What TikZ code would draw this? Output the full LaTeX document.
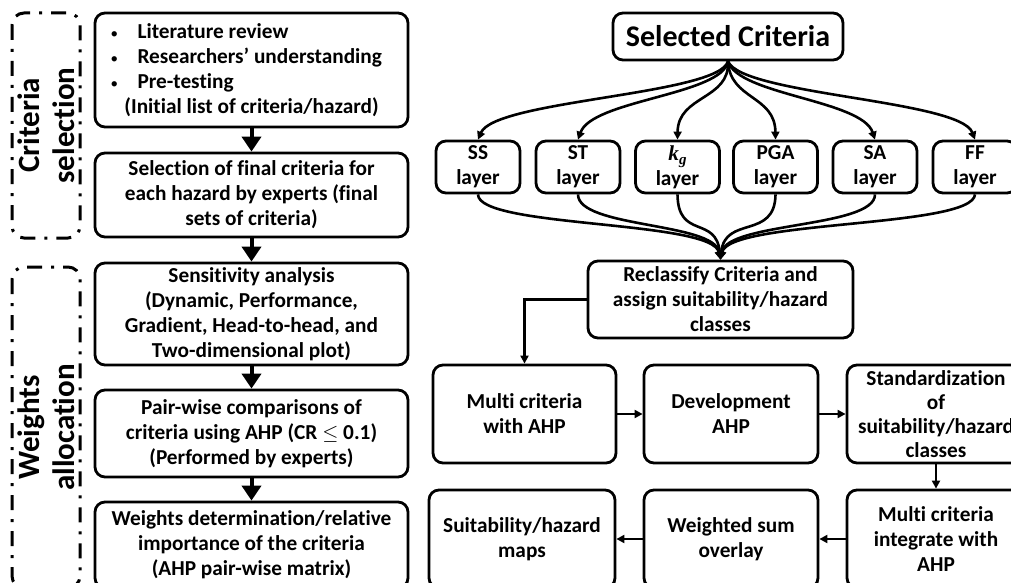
\documentclass[tikz,border=0pt]{standalone}
\usepackage{fontspec}
\setmainfont{Carlito}[Ligatures=NoCommon]
\newfontfamily\tms{Liberation Serif}
\usetikzlibrary{arrows.meta}
\newcommand{\bul}{\makebox[26pt][l]{\hspace{-1pt}{\mdseries\fontsize{15}{15}\selectfont •}}}
\tikzset{
  box/.style={draw, line width=2.8pt, rounded corners=10pt, align=center, inner sep=0pt,
    font=\fontsize{21.3}{25}\selectfont\bfseries},
  grp/.style={draw, line width=3pt, rounded corners=12pt, dash pattern=on 15pt off 9pt on 3pt off 9pt,
    align=center, inner sep=0pt, font=\fontsize{31}{35}\selectfont\bfseries},
  bigarr/.style={line width=4pt, -{Triangle[length=15pt,width=19pt]}},
  arr/.style={line width=2.6pt, -{Triangle[length=8pt,width=8pt]}},
  fan/.style={line width=2.6pt, -{Triangle[length=8pt,width=8pt]}}
}
\begin{document}
\begin{tikzpicture}[x=1pt,y=-1pt]
\useasboundingbox (0,0) rectangle (1011,583);
\fill[white] (0,0) rectangle (1011,583);
\clip (0,0) rectangle (1011,583);

% group frames
\node[grp, rotate=90, minimum width=225pt, minimum height=68pt] (g1) at (46,125.5) {Criteria\\selection};
\node[grp, rotate=90, minimum width=321pt, minimum height=68pt] (g2) at (46,427.5) {Weights\\allocation};

% left column
\node[box, minimum width=313pt, minimum height=114pt] (b1) at (251.5,70) {%
\makebox[280pt][l]{\bul Literature review}\\
\makebox[280pt][l]{\bul Researchers’ understanding}\\
\makebox[280pt][l]{\bul Pre-testing}\\
(Initial list of criteria/hazard)};
\node[box, minimum width=313pt, minimum height=84pt] (b2) at (251.5,195) {Selection of final criteria for\\each hazard by experts (final\\sets of criteria)};
\node[box, minimum width=313pt, minimum height=102pt] (b3) at (251.5,314) {Sensitivity analysis\\(Dynamic, Performance,\\Gradient, Head-to-head, and\\Two-dimensional plot)};
\node[box, minimum width=313pt, minimum height=87pt] (b4) at (251.5,433.5) {Pair-wise comparisons of\\criteria using AHP (CR $\leq$ 0.1)\\(Performed by experts)};
\node[box, minimum width=313pt, minimum height=86pt] (b5) at (251.5,545) {Weights determination/relative\\importance of the criteria\\(AHP pair-wise matrix)};

\draw[bigarr] (b1.south) -- (b2.north);
\draw[bigarr] (b2.south) -- (b3.north);
\draw[bigarr] (b3.south) -- (b4.north);
\draw[bigarr] (b4.south) -- (b5.north);

% right part
\node[box, font=\fontsize{30}{34}\selectfont\bfseries, minimum width=230pt, minimum height=47pt] (sc) at (728,36.5) {Selected Criteria};

\node[box, minimum width=84pt, minimum height=52pt] (ss) at (478,167) {SS\\layer};
\node[box, minimum width=84pt, minimum height=52pt] (st) at (578,167) {ST\\layer};
\node[box, minimum width=84pt, minimum height=52pt] (kg) at (677.5,167) {{\tms\bfseries\itshape k\raisebox{-4pt}{\fontsize{15}{15}\selectfont g}}\\layer};
\node[box, minimum width=84pt, minimum height=52pt] (pga) at (775.5,167) {PGA\\layer};
\node[box, minimum width=84pt, minimum height=52pt] (sa) at (875,167) {SA\\layer};
\node[box, minimum width=84pt, minimum height=52pt] (ff) at (975,167) {FF\\layer};

\node[box, minimum width=265pt, minimum height=77pt] (rc) at (720.5,299.5) {Reclassify Criteria and\\assign suitability/hazard\\classes};

\draw[fan] (sc.south) .. controls (718,95) and (495,100) .. (ss.north);
\draw[fan] (sc.south) .. controls (722,95) and (592,100) .. (st.north);
\draw[fan] (sc.south) .. controls (730,100) and (678,95) .. (kg.north);
\draw[fan] (sc.south) .. controls (730,100) and (775,95) .. (pga.north);
\draw[fan] (sc.south) .. controls (738,95) and (862,100) .. (sa.north);
\draw[fan] (sc.south) .. controls (742,95) and (960,100) .. (ff.north);

\draw[fan] (ss.south) .. controls (478,228) and (712,220) .. (rc.north);
\draw[fan] (st.south) .. controls (578,228) and (714,222) .. (rc.north);
\draw[fan] (kg.south) .. controls (678,240) and (716,215) .. (rc.north);
\draw[fan] (pga.south) .. controls (775,240) and (725,215) .. (rc.north);
\draw[fan] (sa.south) .. controls (875,228) and (727,222) .. (rc.north);
\draw[fan] (ff.south) .. controls (973,228) and (729,220) .. (rc.north);

\node[box, minimum width=183pt, minimum height=98pt] (mc) at (524.5,414) {Multi criteria\\with AHP};
\node[box, minimum width=174pt, minimum height=98pt] (dev) at (731,414) {Development\\AHP};
\node[box, minimum width=178pt, minimum height=98pt, font=\fontsize{21.3}{24}\selectfont\bfseries] (std) at (936,414) {Standardization\\of\\suitability/hazard\\classes};
\node[box, minimum width=186pt, minimum height=98pt] (suit) at (522,539) {Suitability/hazard\\maps};
\node[box, minimum width=174pt, minimum height=98pt] (ws) at (731,539) {Weighted sum\\overlay};
\node[box, minimum width=178pt, minimum height=98pt] (mi) at (936,539) {Multi criteria\\integrate with\\AHP};

\draw[arr] (rc.west) -| (mc.north);
\draw[arr] (mc.east) -- (dev.west);
\draw[arr] (dev.east) -- (std.west);
\draw[arr] (std.south) -- (mi.north);
\draw[arr] (mi.west) -- (ws.east);
\draw[arr] (ws.west) -- (suit.east);
\end{tikzpicture}
\end{document}
